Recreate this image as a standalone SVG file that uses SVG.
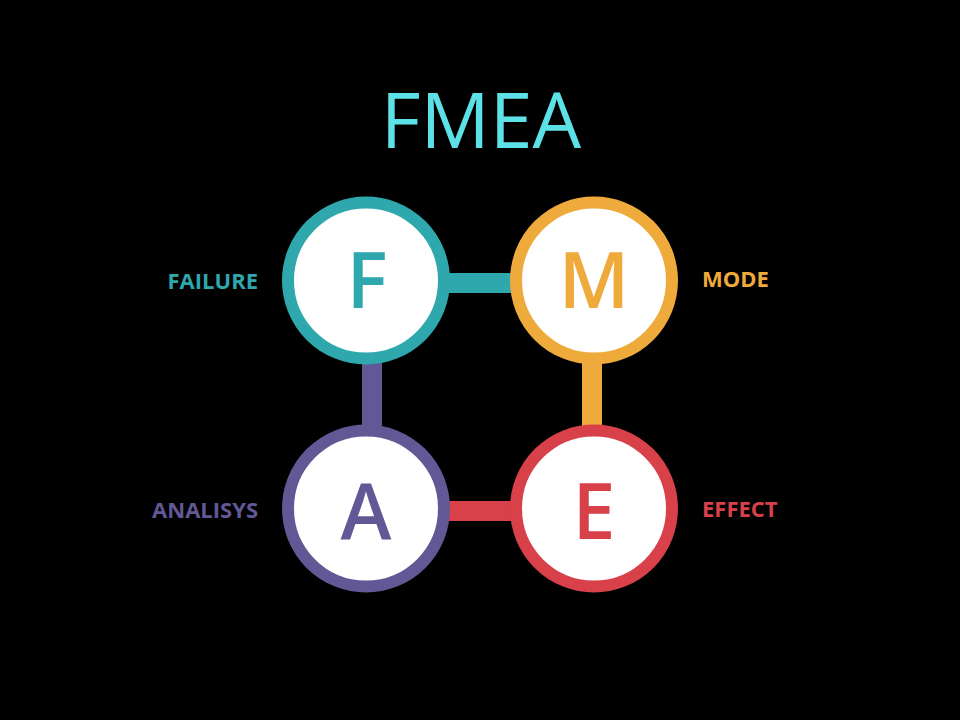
<svg xmlns="http://www.w3.org/2000/svg" width="960" height="720" viewBox="0 0 960 720">
<style>
text{font-family:"Open Sans","Liberation Sans",sans-serif}
.ring{fill:#ffffff;stroke-width:12}
.letter{font-size:77px;font-weight:600;text-anchor:middle}
.lbl{font-size:22px;font-weight:700}
.teal{fill:#2ea8ac}.orange{fill:#eeaa3b}.purple{fill:#635896}.red{fill:#d8404a}
</style>
<rect width="960" height="720" fill="#000000"/>
<text x="481" y="148" font-size="77" font-weight="400" text-anchor="middle" fill="#5ce1e6">FMEA</text>
<g id="connectors">
<rect x="440" y="273" width="80" height="20" fill="#2ea8ac"/>
<rect x="362" y="355" width="20" height="80" fill="#635896"/>
<rect x="582" y="355" width="20" height="80" fill="#eeaa3b"/>
<rect x="440" y="501" width="80" height="20" fill="#d8404a"/>
</g>
<g id="node-F">
<circle class="ring" cx="366" cy="280.5" r="78" stroke="#2ea8ac"/>
<text class="letter teal" x="367" y="308">F</text>
<text class="lbl teal" x="258" y="289" text-anchor="end">FAILURE</text>
</g>
<g id="node-M">
<circle class="ring" cx="594" cy="280.5" r="78" stroke="#eeaa3b"/>
<text class="letter orange" x="594" y="308">M</text>
<text class="lbl orange" x="702" y="287">MODE</text>
</g>
<g id="node-A">
<circle class="ring" cx="366" cy="508.5" r="78" stroke="#635896"/>
<text class="letter purple" x="366" y="539">A</text>
<text class="lbl purple" x="258" y="518" text-anchor="end" font-weight="600">ANALISYS</text>
</g>
<g id="node-E">
<circle class="ring" cx="594" cy="508.5" r="78" stroke="#d8404a"/>
<text class="letter red" x="594" y="539">E</text>
<text class="lbl red" x="702" y="517">EFFECT</text>
</g>
</svg>
